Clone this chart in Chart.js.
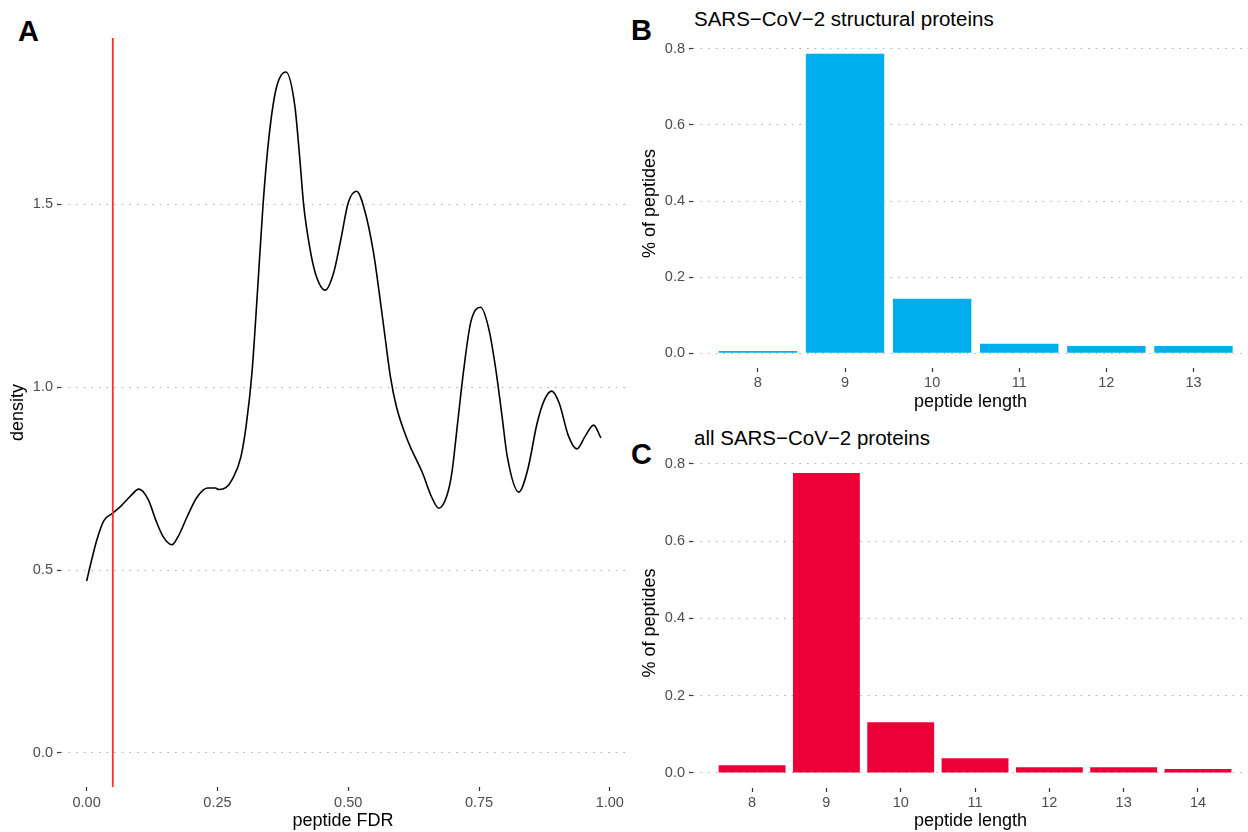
<!DOCTYPE html>
<html>
<head>
<meta charset="utf-8">
<script src="https://cdn.jsdelivr.net/npm/chart.js@4.4.0/dist/chart.umd.min.js"></script>
<style>
html, body { margin:0; padding:0; background:#fff; width:1248px; height:832px; overflow:hidden; font-family:"Liberation Sans", Arial, sans-serif; }
canvas { position:absolute; display:block; }
.tag { position:absolute; font-weight:bold; font-size:29px; line-height:1; color:#000; }
.ttl { position:absolute; font-size:20.5px; line-height:1; color:#000; white-space:nowrap; }
</style>
</head>
<body>
<div class="tag" style="left:18px;top:17px">A</div>
<div class="tag" style="left:631px;top:16px">B</div>
<div class="tag" style="left:631px;top:440px">C</div>
<div class="ttl" style="left:694px;top:9px">SARS−CoV−2 structural proteins</div>
<div class="ttl" style="left:694px;top:428px">all SARS−CoV−2 proteins</div>

<canvas id="chartA" width="640" height="832" style="left:0;top:0"></canvas>
<canvas id="chartB" width="628" height="420" style="left:620px;top:0"></canvas>
<canvas id="chartC" width="628" height="412" style="left:620px;top:420px"></canvas>

<script>
// Panel A: peptide FDR density
const fdrX = [0.000, 0.010, 0.020, 0.033, 0.0495, 0.065, 0.083, 0.100, 0.118, 0.132, 0.146, 0.163,
  0.175, 0.1925, 0.210, 0.231, 0.2456, 0.253, 0.2667, 0.278, 0.295, 0.3056, 0.316, 0.3268, 0.337,
  0.348, 0.362, 0.381, 0.398, 0.407, 0.415, 0.426, 0.437, 0.456, 0.472, 0.486, 0.500, 0.516, 0.532,
  0.548, 0.560, 0.571, 0.581, 0.592, 0.613, 0.642, 0.659, 0.673, 0.688, 0.698, 0.709, 0.720, 0.734,
  0.753, 0.769, 0.783, 0.794, 0.804, 0.826, 0.843, 0.861, 0.875, 0.889, 0.903, 0.921, 0.937, 0.953,
  0.969, 0.983];
const densityY = [0.470, 0.530, 0.585, 0.635, 0.655, 0.674, 0.701, 0.721, 0.692, 0.637, 0.592, 0.569,
  0.592, 0.647, 0.697, 0.724, 0.724, 0.720, 0.726, 0.747, 0.810, 0.902, 1.039, 1.267, 1.495,
  1.677, 1.814, 1.861, 1.768, 1.631, 1.495, 1.385, 1.312, 1.265, 1.312, 1.404, 1.504, 1.535, 1.480,
  1.370, 1.250, 1.130, 1.025, 0.947, 0.856, 0.765, 0.701, 0.669, 0.701, 0.765, 0.901, 1.039, 1.176,
  1.218, 1.157, 1.039, 0.920, 0.810, 0.713, 0.774, 0.901, 0.965, 0.989, 0.957, 0.866, 0.831, 0.866,
  0.896, 0.861];
const fdrCutoff = 0.05;
const xRangeA = [-0.049, 1.029];
const yRangeA = [-0.093, 1.954];
const xTicksA = [0, 0.25, 0.5, 0.75, 1];
const yTicksA = [0, 0.5, 1, 1.5];

// Panel B: structural proteins
const lengthsB = [8, 9, 10, 11, 12, 13];
const fractionB = [0.006, 0.787, 0.143, 0.025, 0.019, 0.019];
// Panel C: all proteins
const lengthsC = [8, 9, 10, 11, 12, 13, 14];
const fractionC = [0.020, 0.776, 0.131, 0.038, 0.015, 0.015, 0.010];
const yTicksBar = [0, 0.2, 0.4, 0.6, 0.8];

const FONT = '"Liberation Sans", Arial, sans-serif';
const tickFont = { family: FONT, size: 14.5 };
const titleFont = { family: FONT, size: 18 };
const GRID = '#b4b4b4';
const TICKC = '#333333';

function fixed(n) { return s => { s.ticks = n.map(v => ({ value: v })); }; }
function width(w) { return s => { s.width = w; }; }
function height(h) { return s => { s.height = h; }; }

function yAxis(min, max, ticks, w, titlePad, dec) {
  return {
    type: 'linear', min, max,
    afterBuildTicks: fixed(ticks), afterFit: width(w),
    border: { display: false, dash: [1.6, 6] },
    grid: { color: GRID, lineWidth: 1, tickLength: 4, tickColor: TICKC, tickWidth: 1.2, tickBorderDash: [] },
    ticks: { color: '#4d4d4d', font: tickFont, padding: 4, callback: v => Number(v).toFixed(dec) },
    title: { display: true, color: '#000', font: titleFont, padding: { top: titlePad } }
  };
}
function xAxis(min, max, ticks, h, labPad, titlePadBottom, dec, text) {
  return {
    type: 'linear', min, max, offset: false,
    afterBuildTicks: fixed(ticks), afterFit: height(h),
    border: { display: false },
    grid: { offset: false, drawOnChartArea: false, tickLength: 4, tickColor: TICKC, tickWidth: 1.2 },
    ticks: { color: '#4d4d4d', font: tickFont, padding: labPad, maxRotation: 0, callback: v => Number(v).toFixed(dec) },
    title: { display: true, text, color: '#000', font: titleFont, padding: { top: 0, bottom: titlePadBottom } }
  };
}

const common = {
  responsive: false, animation: false,
  plugins: { legend: { display: false }, tooltip: { enabled: false } }
};

// A
const yA = yAxis(yRangeA[0], yRangeA[1], yTicksA, 61, 7, 1);
yA.title.text = 'density';
new Chart(document.getElementById('chartA'), {
  type: 'line',
  data: {
    datasets: [
      { data: [{ x: fdrCutoff, y: yRangeA[0] }, { x: fdrCutoff, y: yRangeA[1] }],
        borderColor: '#ff2b2b', borderWidth: 1.8, pointRadius: 0, order: 0 },
      { data: fdrX.map((x, i) => ({ x, y: densityY[i] })),
        borderColor: '#000', borderWidth: 1.6, pointRadius: 0, cubicInterpolationMode: 'monotone', order: 1 }
    ]
  },
  options: Object.assign({}, common, {
    layout: { padding: { top: 38, right: 15, left: 0, bottom: 0 } },
    scales: { x: xAxis(xRangeA[0], xRangeA[1], xTicksA, 45, 3, 0, 2, 'peptide FDR'), y: yA }
  })
});

function barChart(id, lengths, values, color, xmin, xmax, top, xh, titlePadBottom, ymax) {
  const y = yAxis(-0.039, ymax, yTicksBar, 73, 19, 1);
  y.title.text = '% of peptides';
  return new Chart(document.getElementById(id), {
    type: 'bar',
    data: { datasets: [{ data: lengths.map((x, i) => ({ x, y: values[i] })), backgroundColor: color,
      borderWidth: 0, categoryPercentage: 0.9, barPercentage: 1 }] },
    options: Object.assign({}, common, {
      layout: { padding: { top, right: 0, left: 0, bottom: 0 } },
      scales: { x: xAxis(xmin, xmax, lengths, xh, 2, titlePadBottom, 0, 'peptide length'), y }
    })
  });
}

barChart('chartB', lengthsB, fractionB, '#00aeef', 7.255, 13.626, 39, 52, 7, 0.826);
barChart('chartC', lengthsC, fractionC, '#ec0038', 7.205, 14.673, 38, 44, 0, 0.815);
</script>
</body>
</html>
